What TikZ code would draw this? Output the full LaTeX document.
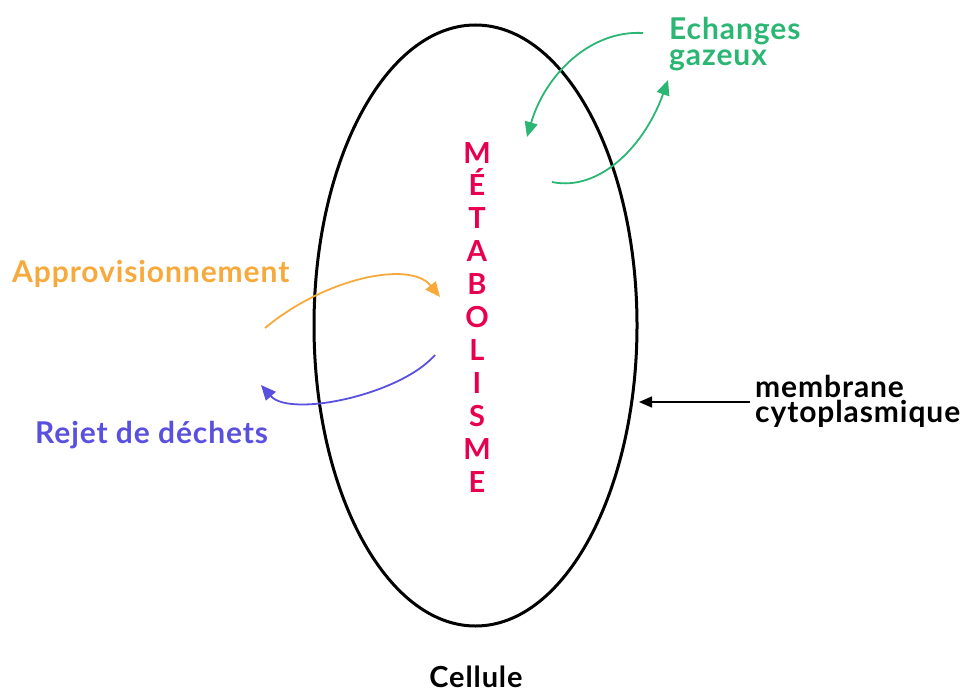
\documentclass[tikz,border=0pt]{standalone}
\usepackage{fontspec}
\setmainfont{Lato}[LetterSpace=3]
\usetikzlibrary{arrows.meta,shapes.geometric}
\definecolor{gaz}{HTML}{2BB673}
\definecolor{appro}{HTML}{F7A93B}
\definecolor{rejet}{HTML}{5A50E0}
\definecolor{metab}{HTML}{E8004F}
\tikzset{
  label/.style={inner sep=0pt, font=\bfseries\fontsize{30}{25}\selectfont},
  flow/.style={line width=1.8pt, -{Triangle[length=15pt,width=13pt]}},
}
\begin{document}
\begin{tikzpicture}[x=1pt,y=-1pt]
\useasboundingbox (0,0) rectangle (965,693);

% cell membrane
\node[draw, line width=3pt, ellipse, minimum width=323pt, minimum height=601pt, inner sep=0pt] (cell) at (475.5,325.5) {};

% labels (multi-line nodes are placed by the baseline of their last line)
\node[label, text=gaz, anchor=base west, align=left] (gaz) at (669,65) {Echanges\\gazeux};
\node[label, text=appro, anchor=base west] (appro) at (12,282) {Approvisionnement};
\node[label, text=rejet, anchor=base west] (rejet) at (35,443) {Rejet de déchets};
\node[label, anchor=base west, align=left] (memb) at (755,422) {membrane\\cytoplasmique};
\node[label, font=\bfseries\fontsize{29}{25}\selectfont, anchor=base] (cellname) at (476,687) {Cellule};
\node[inner sep=0pt, text=metab, anchor=base, align=center,
      font=\bfseries\fontsize{29}{32.9}\selectfont] (metab) at (477,492)
      {M\\É\\T\\A\\B\\O\\L\\I\\S\\M\\E};

% free ends of the exchange arrows
\coordinate (gazin) at (643,33);
\coordinate (gazinend) at (527,137);
\coordinate (gazout) at (552,182);
\coordinate (gazoutend) at (668,80);
\coordinate (approstart) at (265,328);
\coordinate (approend) at (440,297);
\coordinate (rejetstart) at (435,355);
\coordinate (rejetend) at (261,385);
\coordinate (membstart) at (750,402);
\coordinate (membend) at (639,402);

\draw[flow, gaz] (gazin) .. controls (590,30) and (545,75) .. (gazinend);
\draw[flow, gaz] (gazout) .. controls (600,192) and (645,145) .. (gazoutend);
\draw[flow, appro] (approstart) .. controls (325,278) and (410,260) .. (approend);
\draw[flow, rejet] (rejetstart) .. controls (400,395) and (290,418) .. (rejetend);
\draw[line width=1.5pt, -{Triangle[length=13pt,width=11pt]}] (membstart) -- (membend);
\end{tikzpicture}
\end{document}
